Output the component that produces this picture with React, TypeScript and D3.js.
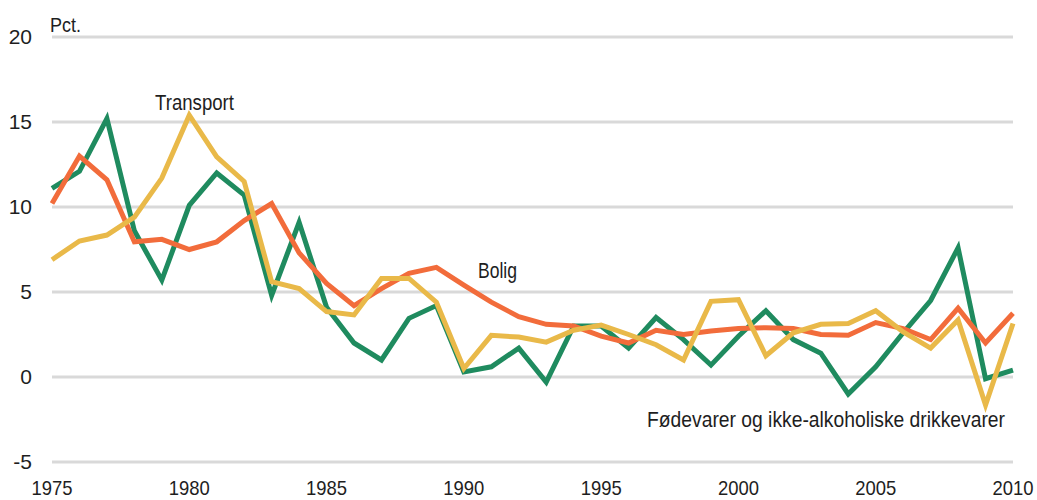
import { useEffect, useRef } from "react"
import * as d3 from "d3"

const years = d3.range(1975, 2011)

// Fødevarer og ikke-alkoholiske drikkevarer
const food = [
  11.1, 12.1, 15.2, 8.6, 5.7, 10.1, 12.0, 10.7, 4.8, 9.1,
  4.1, 2.0, 1.0, 3.45, 4.2, 0.3, 0.6, 1.7, -0.3, 3.0,
  3.0, 1.7, 3.5, 2.2, 0.7, 2.4, 3.9, 2.2, 1.4, -1.0,
  0.6, 2.6, 4.5, 7.6, -0.1, 0.4,
]

const housing = [
  10.2, 13.0, 11.6, 7.95, 8.1, 7.5, 7.95, 9.2, 10.2, 7.3,
  5.5, 4.2, 5.2, 6.1, 6.45, 5.4, 4.4, 3.55, 3.1, 3.0,
  2.4, 2.0, 2.75, 2.5, 2.7, 2.85, 2.9, 2.85, 2.5, 2.45,
  3.2, 2.85, 2.2, 4.05, 2.0, 3.75,
]

const transport = [
  6.9, 8.0, 8.35, 9.4, 11.7, 15.4, 12.95, 11.5, 5.6, 5.2,
  3.85, 3.65, 5.8, 5.8, 4.4, 0.5, 2.45, 2.35, 2.05, 2.75,
  3.05, 2.5, 1.9, 1.0, 4.45, 4.55, 1.25, 2.6, 3.1, 3.15,
  3.9, 2.65, 1.7, 3.35, -1.65, 3.15,
]

const yTicks = [-5, 0, 5, 10, 15, 20]
const xTicks = [1975, 1980, 1985, 1990, 1995, 2000, 2005, 2010]

const series = [
  { name: "Fødevarer", values: food, color: "#1f8b5f" },
  { name: "Bolig", values: housing, color: "#f26c3b" },
  { name: "Transport", values: transport, color: "#e9b949" },
]

const W = 1037
const H = 500
const FONT = "'Liberation Sans', Arial, sans-serif"
const TEXT = "#1e1e1e"

export default function App() {
  const svgRef = useRef<SVGSVGElement>(null)

  useEffect(() => {
    if (!svgRef.current) return
    const svg = d3.select(svgRef.current)
    svg.selectAll("*").remove()

    const x = d3.scaleLinear().domain([1975, 2010]).range([52, 1013])
    const y = d3.scaleLinear().domain([-5, 20]).range([462, 37])

    // grille
    svg
      .append("g")
      .selectAll("line")
      .data(yTicks)
      .enter()
      .append("line")
      .attr("x1", x(1975))
      .attr("x2", x(2010))
      .attr("y1", (d) => y(d))
      .attr("y2", (d) => y(d))
      .attr("stroke", "#d9d9d9")
      .attr("stroke-width", 3)

    // labels Y
    svg
      .append("g")
      .selectAll("text")
      .data(yTicks)
      .enter()
      .append("text")
      .attr("x", 32)
      .attr("y", (d) => y(d) + 7)
      .attr("text-anchor", "end")
      .attr("font-family", FONT)
      .attr("font-size", 21)
      .attr("fill", TEXT)
      .text((d) => String(d))

    // labels X
    svg
      .append("g")
      .selectAll("text")
      .data(xTicks)
      .enter()
      .append("text")
      .attr("x", (d) => x(d))
      .attr("y", 495)
      .attr("text-anchor", "middle")
      .attr("font-family", FONT)
      .attr("font-size", 21)
      .attr("textLength", 41)
      .attr("lengthAdjust", "spacingAndGlyphs")
      .attr("fill", TEXT)
      .text((d) => String(d))

    svg
      .append("text")
      .attr("x", 50)
      .attr("y", 32)
      .attr("font-family", FONT)
      .attr("font-size", 21)
      .attr("textLength", 31)
      .attr("lengthAdjust", "spacingAndGlyphs")
      .attr("fill", TEXT)
      .text("Pct.")

    const line = d3
      .line<number>()
      .x((_d, i) => x(years[i]))
      .y((d) => y(d))

    series.forEach((s) => {
      svg
        .append("path")
        .datum(s.values)
        .attr("fill", "none")
        .attr("stroke", s.color)
        .attr("stroke-width", 5)
        .attr("stroke-linejoin", "miter")
        .attr("d", line)
    })

    const labels = [
      { text: "Transport", x: 155, y: 110, w: 79 },
      { text: "Bolig", x: 478, y: 278, w: 39 },
      { text: "Fødevarer og ikke-alkoholiske drikkevarer", x: 647, y: 427, w: 358 },
    ]
    svg
      .append("g")
      .selectAll("text")
      .data(labels)
      .enter()
      .append("text")
      .attr("x", (d) => d.x)
      .attr("y", (d) => d.y)
      .attr("font-family", FONT)
      .attr("font-size", 22.5)
      .attr("textLength", (d) => d.w)
      .attr("lengthAdjust", "spacingAndGlyphs")
      .attr("fill", TEXT)
      .text((d) => d.text)
  }, [])

  return (
    <svg
      ref={svgRef}
      width={W}
      height={H}
      style={{ position: "absolute", left: 0, top: 0, background: "#fff" }}
    />
  )
}
